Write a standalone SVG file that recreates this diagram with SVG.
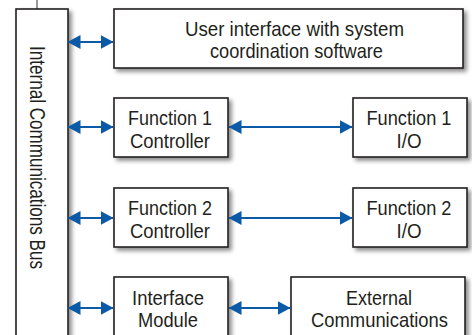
<svg xmlns="http://www.w3.org/2000/svg" width="472" height="335" viewBox="0 0 472 335">
<style>
.box{fill:#fff;stroke:#231f20;stroke-width:1.6;filter:url(#sh)}
.t{font-family:"Liberation Sans",Arial,sans-serif;font-size:21px;fill:#231f20;text-anchor:middle}
.v{font-family:"Liberation Sans",Arial,sans-serif;font-size:22px;fill:#231f20;text-anchor:start}
.c{stroke:#0b5aa8;stroke-width:2;fill:none;marker-start:url(#ah);marker-end:url(#ah)}
</style>
<defs>
<filter id="sh" x="-10%" y="-10%" width="130%" height="140%">
<feDropShadow dx="3" dy="3" stdDeviation="2" flood-color="#000" flood-opacity="0.45"/>
</filter>
<marker id="ah" viewBox="0 0 13 14" refX="12.5" refY="7" markerWidth="13" markerHeight="14" markerUnits="userSpaceOnUse" orient="auto-start-reverse">
<path d="M0,0 L13,7 L0,14 Z" fill="#0b5aa8"/>
</marker>
</defs>
<rect width="472" height="335" fill="#fff"/>
<line x1="37" y1="0" x2="37" y2="9" stroke="#999" stroke-width="2"/>
<g id="bus">
<rect class="box" x="16" y="9" width="52" height="340"/>
<text class="v" transform="translate(30,46) rotate(90)" textLength="223" lengthAdjust="spacingAndGlyphs">Internal Communications Bus</text>
</g>
<g id="ui">
<rect class="box" x="114" y="9" width="349" height="59"/>
<text class="t" x="294.5" y="36" textLength="219" lengthAdjust="spacingAndGlyphs">User interface with system</text>
<text class="t" x="296.5" y="58" textLength="173" lengthAdjust="spacingAndGlyphs">coordination software</text>
</g>
<g id="f1c">
<rect class="box" x="114" y="98" width="114" height="59"/>
<text class="t" x="170" y="125" textLength="84" lengthAdjust="spacingAndGlyphs">Function 1</text>
<text class="t" x="170" y="148" textLength="80" lengthAdjust="spacingAndGlyphs">Controller</text>
</g>
<g id="f1io">
<rect class="box" x="353" y="98" width="114" height="59"/>
<text class="t" x="409" y="125" textLength="85" lengthAdjust="spacingAndGlyphs">Function 1</text>
<text class="t" x="409" y="148" textLength="25" lengthAdjust="spacingAndGlyphs">I/O</text>
</g>
<g id="f2c">
<rect class="box" x="114" y="188" width="114" height="59"/>
<text class="t" x="170" y="215" textLength="84" lengthAdjust="spacingAndGlyphs">Function 2</text>
<text class="t" x="170" y="238" textLength="80" lengthAdjust="spacingAndGlyphs">Controller</text>
</g>
<g id="f2io">
<rect class="box" x="353" y="188" width="114" height="59"/>
<text class="t" x="409" y="215" textLength="85" lengthAdjust="spacingAndGlyphs">Function 2</text>
<text class="t" x="409" y="238" textLength="25" lengthAdjust="spacingAndGlyphs">I/O</text>
</g>
<g id="im">
<rect class="box" x="114" y="277" width="114" height="70"/>
<text class="t" x="168" y="305" textLength="72" lengthAdjust="spacingAndGlyphs">Interface</text>
<text class="t" x="168" y="327" textLength="60" lengthAdjust="spacingAndGlyphs">Module</text>
</g>
<g id="ext">
<rect class="box" x="291" y="277" width="174" height="70"/>
<text class="t" x="379" y="305" textLength="66" lengthAdjust="spacingAndGlyphs">External</text>
<text class="t" x="379.5" y="327" textLength="137" lengthAdjust="spacingAndGlyphs">Communications</text>
</g>
<g id="connectors">
<line class="c" x1="68" y1="42" x2="113" y2="42"/>
<line class="c" x1="68" y1="127" x2="113" y2="127"/>
<line class="c" x1="68" y1="218" x2="113" y2="218"/>
<line class="c" x1="68" y1="308" x2="113" y2="308"/>
<line class="c" x1="229" y1="127" x2="352" y2="127"/>
<line class="c" x1="229" y1="218" x2="352" y2="218"/>
<line class="c" x1="229" y1="308" x2="290" y2="308"/>
</g>
</svg>
